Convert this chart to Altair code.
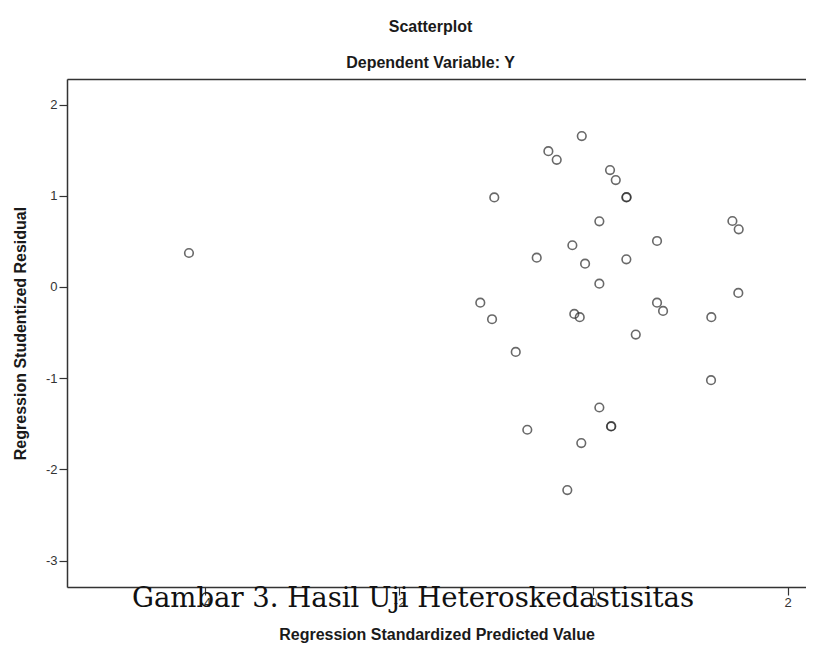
import altair as alt
import pandas as pd

# Regression Standardized Predicted Value (x) and Studentized Residual (y)
pred = [-4.164, -0.119, -0.463, -0.377, 0.172, 0.231, -1.020, 0.340, 0.343,
        0.062, 1.432, 1.497, 0.656, -0.216, -0.583, -0.085, 0.340, 0.062,
        -1.164, 1.493, 0.656, 0.718, -0.196, -0.140, -1.043, 1.215, 0.437,
        -0.799, 1.212, 0.062, 0.182, 0.185, -0.680, -0.124, -0.268]
resid = [0.372, 1.654, 1.489, 1.394, 1.281, 1.172, 0.982, 0.982, 0.985,
         0.719, 0.723, 0.632, 0.504, 0.457, 0.321, 0.255, 0.303, 0.036,
         -0.172, -0.066, -0.172, -0.263, -0.296, -0.332, -0.354, -0.332, -0.522,
         -0.712, -1.022, -1.322, -1.530, -1.527, -1.566, -1.712, -2.227]

x_ticks = [-4, -2, 0, 2]
y_ticks = [-3, -2, -1, 0, 1, 2]
caption = ["Gambar 3. Hasil Uji Heteroskedastisitas"]

df = pd.DataFrame({"pred": pred, "resid": resid})
cap_df = pd.DataFrame({"caption": caption})

xscale = alt.Scale(domain=[-5.42, 2.19], nice=False, zero=False)
yscale = alt.Scale(domain=[-3.29, 2.28], nice=False, zero=False)

axis_style = dict(
    grid=False, tickSize=8, domainColor="#333333", domainWidth=1.5,
    tickColor="#333333", tickWidth=1.2,
    labelFont="Liberation Sans", labelFontSize=13, labelColor="#333333",
    titleFont="Liberation Sans", titleFontSize=16, titleFontWeight="bold",
    titleColor="#1a1a1a", labelExpr="'' + datum.value",
)

points = alt.Chart(df).mark_point(
    shape="circle", filled=False, stroke="#2a2a2a", strokeWidth=1.6, size=74
).encode(
    x=alt.X("pred:Q", scale=xscale,
            axis=alt.Axis(values=x_ticks, title="Regression Standardized Predicted Value",
                          orient="bottom", labelPadding=1, titlePadding=17, **axis_style)),
    y=alt.Y("resid:Q", scale=yscale,
            axis=alt.Axis(values=y_ticks, title="Regression Studentized Residual",
                          labelPadding=2, titlePadding=17, **axis_style)),
)

top_border = alt.Chart(df).mark_point(opacity=0).encode(
    x=alt.X("pred:Q", scale=xscale,
            axis=alt.Axis(orient="top", labels=False, ticks=False, title=None, grid=False,
                          domainColor="#333333", domainWidth=1.5)),
)

cap = alt.Chart(cap_df).mark_text(
    font="DejaVu Serif", fontSize=27.5, color="#111111", align="left",
    baseline="alphabetic"
).encode(
    text="caption:N",
    x=alt.value(65),
    y=alt.value(528),
)

chart = alt.layer(points, top_border, cap).resolve_axis(x="independent").properties(
    width=739,
    height=508,
    title=alt.TitleParams(
        text="Scatterplot",
        subtitle="Dependent Variable: Y",
        anchor="middle",
        dx=-6,
        offset=8,
        fontSize=16,
        subtitleFontSize=16,
        font="Liberation Sans",
        subtitleFont="Liberation Sans",
        fontWeight="bold",
        subtitleFontWeight="bold",
        color="#1a1a1a",
        subtitleColor="#1a1a1a",
        subtitlePadding=20,
    ),
    autosize=alt.AutoSizeParams(type="none"),
    padding={"left": 59, "top": 71, "right": 0, "bottom": 59},
).configure_view(
    fill="#f0f0f0", stroke=None
).configure(background="white")

chart.save("out.html", embed_options={"renderer": "svg", "actions": False})
